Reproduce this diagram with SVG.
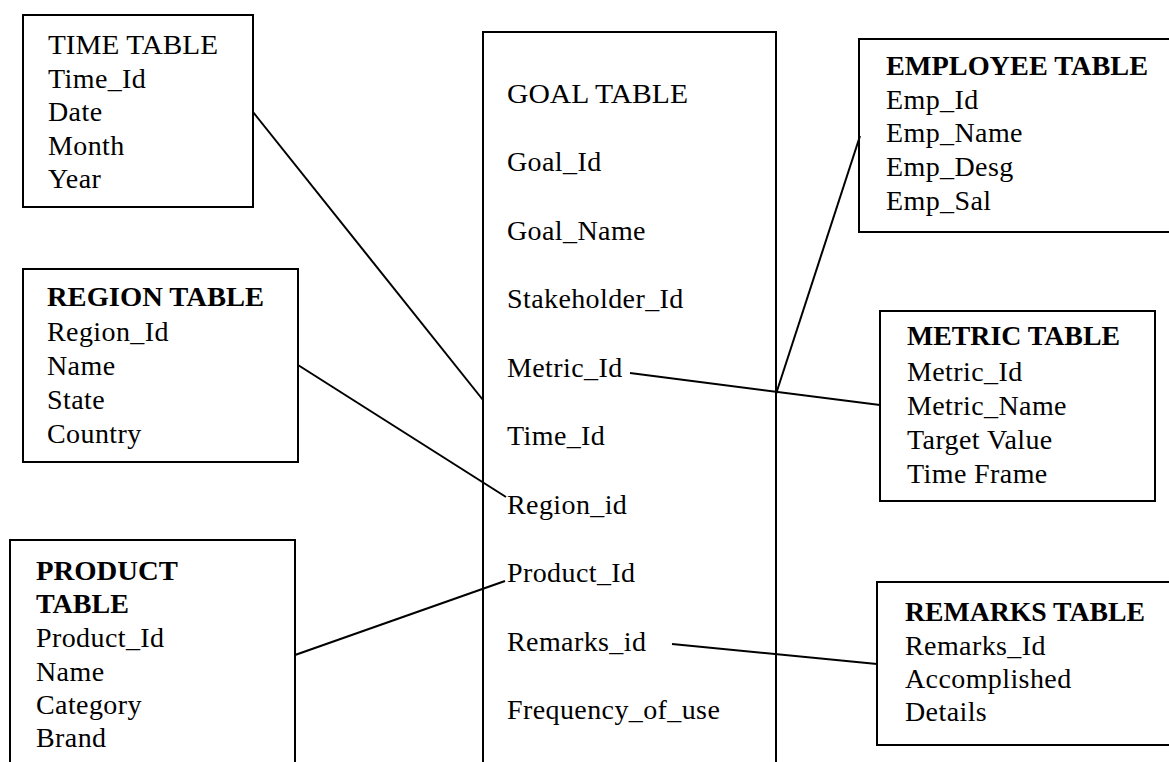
<svg xmlns="http://www.w3.org/2000/svg" width="1169" height="762" viewBox="0 0 1169 762">
<style>
.box{fill:#fff;stroke:#000;stroke-width:2}
text{font-family:"Liberation Serif","Times New Roman",serif;font-size:28px;fill:#000;letter-spacing:0.4px}
.h{font-weight:bold;letter-spacing:0}
.c line{stroke:#000;stroke-width:2}
</style>
<rect width="1169" height="762" fill="#fff"/>
<g id="time">
<rect class="box" x="23" y="15" width="230" height="192"/>
<text x="48" y="54" textLength="170" lengthAdjust="spacingAndGlyphs" style="letter-spacing:0">TIME TABLE</text>
<text x="48" y="88">Time_Id</text>
<text x="48" y="121">Date</text>
<text x="48" y="155">Month</text>
<text x="48" y="188">Year</text>
</g>
<g id="goal">
<rect class="box" x="483" y="32" width="293" height="740"/>
<text x="507" y="103" textLength="181" lengthAdjust="spacingAndGlyphs" style="letter-spacing:0">GOAL TABLE</text>
<text x="507" y="171">Goal_Id</text>
<text x="507" y="240">Goal_Name</text>
<text x="507" y="308">Stakeholder_Id</text>
<text x="507" y="377">Metric_Id</text>
<text x="507" y="445">Time_Id</text>
<text x="507" y="514">Region_id</text>
<text x="507" y="582">Product_Id</text>
<text x="507" y="651">Remarks_id</text>
<text x="507" y="719">Frequency_of_use</text>
</g>
<g id="employee">
<rect class="box" x="859" y="39" width="320" height="193"/>
<text class="h" x="886" y="75" textLength="262" lengthAdjust="spacingAndGlyphs">EMPLOYEE TABLE</text>
<text x="886" y="109">Emp_Id</text>
<text x="886" y="142">Emp_Name</text>
<text x="886" y="176">Emp_Desg</text>
<text x="886" y="210">Emp_Sal</text>
</g>
<g id="region">
<rect class="box" x="23" y="269" width="275" height="193"/>
<text class="h" x="47" y="306" textLength="217" lengthAdjust="spacingAndGlyphs">REGION TABLE</text>
<text x="47" y="341">Region_Id</text>
<text x="47" y="375">Name</text>
<text x="47" y="409">State</text>
<text x="47" y="443">Country</text>
</g>
<g id="metric">
<rect class="box" x="880" y="311" width="275" height="190"/>
<text class="h" x="907" y="345" textLength="213" lengthAdjust="spacingAndGlyphs">METRIC TABLE</text>
<text x="907" y="381">Metric_Id</text>
<text x="907" y="415">Metric_Name</text>
<text x="907" y="449">Target Value</text>
<text x="907" y="483">Time Frame</text>
</g>
<g id="product">
<rect class="box" x="10" y="540" width="285" height="232"/>
<text class="h" x="36" y="580" textLength="142" lengthAdjust="spacingAndGlyphs">PRODUCT</text>
<text class="h" x="36" y="613" textLength="93" lengthAdjust="spacingAndGlyphs">TABLE</text>
<text x="36" y="647">Product_Id</text>
<text x="36" y="681">Name</text>
<text x="36" y="714">Category</text>
<text x="36" y="747">Brand</text>
</g>
<g id="remarks">
<rect class="box" x="877" y="582" width="302" height="163"/>
<text class="h" x="905" y="621" textLength="240" lengthAdjust="spacingAndGlyphs">REMARKS TABLE</text>
<text x="905" y="655">Remarks_Id</text>
<text x="905" y="688">Accomplished</text>
<text x="905" y="721">Details</text>
</g>
<g id="connectors" class="c">
<line x1="253" y1="112" x2="483" y2="400"/>
<line x1="298" y1="365" x2="506" y2="497"/>
<line x1="295" y1="655" x2="505" y2="581"/>
<line x1="776" y1="394" x2="860" y2="136"/>
<line x1="630" y1="373" x2="880" y2="405"/>
<line x1="672" y1="644" x2="877" y2="664"/>
</g>
</svg>
